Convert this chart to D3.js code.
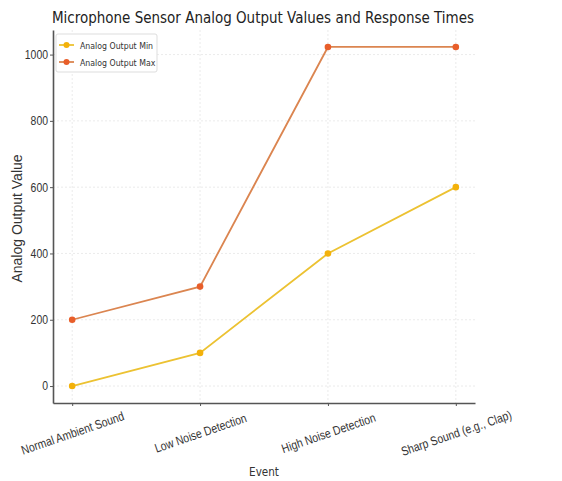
<!DOCTYPE html>
<html>
<head>
<meta charset="utf-8">
<script src="https://cdn.jsdelivr.net/npm/d3@7"></script>
<style>
  body { margin: 0; background: #fff; }
  svg { font-family: "DejaVu Sans", sans-serif; }
</style>
</head>
<body>
<div id="wrapper"></div>
<script>
// data
const events = ["Normal Ambient Sound", "Low Noise Detection", "High Noise Detection", "Sharp Sound (e.g., Clap)"]
const outputMin = [0, 100, 400, 600]
const outputMax = [200, 300, 1023, 1023]
const yTicks = [0, 200, 400, 600, 800, 1000]

const series = [
  { name: "Analog Output Min", values: outputMin, line: "#ecc232", dot: "#f3b10a" },
  { name: "Analog Output Max", values: outputMax, line: "#db8550", dot: "#e85e2a" },
]

// dimensions
const width = 562, height = 481
const margin = { top: 30, right: 87, bottom: 78, left: 53 }
const boundedWidth = width - margin.left - margin.right
const boundedHeight = height - margin.top - margin.bottom
const squeeze = 0.87  // reference text is horizontally condensed

const svg = d3.select("#wrapper").append("svg")
  .attr("width", width).attr("height", height)

const bounds = svg.append("g")
  .attr("transform", `translate(${margin.left},${margin.top})`)

// scales (matplotlib-like 5% margins)
const xScale = d3.scaleLinear()
  .domain([-0.15, events.length - 1 + 0.15])
  .range([0, boundedWidth])

const yScale = d3.scaleLinear()
  .domain([-51.15, 1074.15])
  .range([boundedHeight, 0])

// grid
bounds.append("g").selectAll("line")
  .data(yTicks).join("line")
  .attr("x1", 0).attr("x2", boundedWidth)
  .attr("y1", d => yScale(d)).attr("y2", d => yScale(d))
  .attr("stroke", "#e6e6e6").attr("stroke-width", 0.8)
  .attr("stroke-dasharray", "2,2")

bounds.append("g").selectAll("line")
  .data(events).join("line")
  .attr("x1", (d, i) => xScale(i)).attr("x2", (d, i) => xScale(i))
  .attr("y1", 0).attr("y2", boundedHeight)
  .attr("stroke", "#e6e6e6").attr("stroke-width", 0.8)
  .attr("stroke-dasharray", "2,2")

// axes
const yAxis = bounds.append("g")
  .call(d3.axisLeft(yScale).tickValues(yTicks).tickFormat(d3.format("d"))
    .tickSize(3).tickSizeOuter(0).tickPadding(2))
yAxis.select(".domain").attr("stroke", "#555").attr("stroke-width", 1.6)
yAxis.selectAll(".tick line").attr("stroke", "#555")
yAxis.selectAll("text")
  .attr("font-size", 12).attr("fill", "#333")
  .attr("x", null)
  .attr("transform", `translate(-5,0) scale(${squeeze},1)`)

const xAxis = bounds.append("g")
  .attr("transform", `translate(0,${boundedHeight})`)
  .call(d3.axisBottom(xScale).tickValues(d3.range(events.length))
    .tickFormat(i => events[i]).tickSize(3).tickSizeOuter(0))
xAxis.select(".domain").attr("stroke", "#555").attr("stroke-width", 1.6)
xAxis.selectAll(".tick line").attr("stroke", "#555")
xAxis.selectAll("text")
  .attr("font-size", 12.5).attr("fill", "#333")
  .attr("text-anchor", "middle")
  .attr("y", 0).attr("dy", "0.35em")
  .attr("transform", `translate(0,30) rotate(-19) scale(0.84,1)`)

// lines
const lineGen = d3.line()
  .x((d, i) => xScale(i))
  .y(d => yScale(d))

series.forEach(s => {
  bounds.append("path")
    .datum(s.values)
    .attr("fill", "none")
    .attr("stroke", s.line)
    .attr("stroke-width", 1.8)
    .attr("d", lineGen)
  bounds.append("g").selectAll("circle")
    .data(s.values).join("circle")
    .attr("cx", (d, i) => xScale(i))
    .attr("cy", d => yScale(d))
    .attr("r", 3.3)
    .attr("fill", s.dot)
})

// labels
svg.append("text")
  .attr("transform", `translate(263,23) scale(${squeeze},1)`)
  .attr("text-anchor", "middle")
  .attr("font-size", 15.5).attr("fill", "#222")
  .text("Microphone Sensor Analog Output Values and Response Times")

svg.append("text")
  .attr("transform", `translate(${margin.left + boundedWidth / 2},476) scale(${squeeze},1)`)
  .attr("text-anchor", "middle")
  .attr("font-size", 12).attr("fill", "#333")
  .text("Event")

svg.append("text")
  .attr("transform", `translate(22,${margin.top + boundedHeight / 2 + 2}) rotate(-90)`)
  .attr("text-anchor", "middle")
  .attr("font-family", "Liberation Sans, Arial, sans-serif")
  .attr("font-size", 14).attr("fill", "#333")
  .text("Analog Output Value")

// legend
const legend = svg.append("g").attr("transform", "translate(56,34)")
legend.append("rect")
  .attr("width", 101).attr("height", 38)
  .attr("fill", "#fff").attr("stroke", "#ddd").attr("rx", 2)
series.forEach((s, i) => {
  const g = legend.append("g").attr("transform", `translate(3,${11 + i * 17})`)
  g.append("line").attr("x1", 0).attr("x2", 15)
    .attr("stroke", s.line).attr("stroke-width", 1.8)
  g.append("circle").attr("cx", 7.5).attr("r", 3).attr("fill", s.dot)
  g.append("text")
    .attr("transform", `translate(21,3.5) scale(${squeeze},1)`)
    .attr("font-size", 9).attr("fill", "#333")
    .text(s.name)
})
</script>
</body>
</html>
